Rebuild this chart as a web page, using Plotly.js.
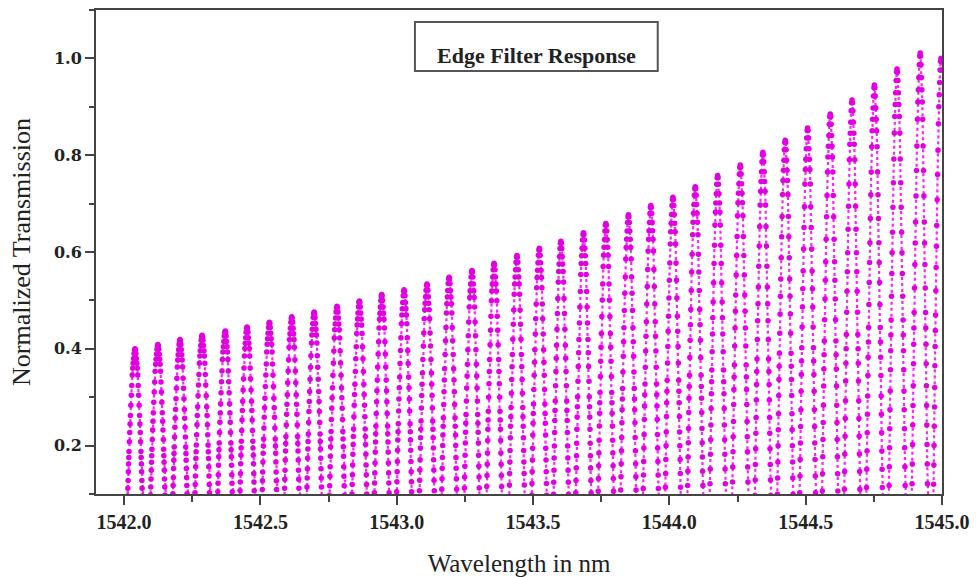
<!DOCTYPE html>
<html>
<head>
<meta charset="utf-8">
<script src="https://cdn.plot.ly/plotly-3.0.1.min.js"></script>
<style>
html,body{margin:0;padding:0;background:#fff;}
#chart{width:979px;height:577px;}
</style>
</head>
<body>
<div id="chart"></div>
<script>
// Peak (fringe maximum) wavelengths in nm
const peakWavelength = [1542.040, 1542.124, 1542.205, 1542.286, 1542.371, 1542.451, 1542.533, 1542.615, 1542.697, 1542.781,
  1542.863, 1542.945, 1543.027, 1543.111, 1543.192, 1543.276, 1543.357, 1543.441, 1543.523, 1543.602,
  1543.685, 1543.767, 1543.850, 1543.932, 1544.013, 1544.095, 1544.177, 1544.260, 1544.343, 1544.425,
  1544.507, 1544.590, 1544.670, 1544.752, 1544.835, 1544.920, 1544.996];
// Peak normalized transmission of each fringe
const peakTransmission = [0.400, 0.409, 0.419, 0.428, 0.437, 0.445, 0.455, 0.466, 0.476, 0.488,
  0.499, 0.512, 0.522, 0.534, 0.548, 0.562, 0.577, 0.593, 0.608, 0.622,
  0.640, 0.659, 0.677, 0.696, 0.713, 0.735, 0.758, 0.780, 0.806, 0.831,
  0.856, 0.885, 0.914, 0.945, 0.978, 1.011, 1.000];
// Half-fringe shape: offset from the peak (fraction of the period) and relative transmission
const fringeOffset = [0, 0.02, 0.04, 0.06, 0.08, 0.10, 0.12, 0.14, 0.16, 0.18, 0.20, 0.215, 0.23, 0.245, 0.26, 0.27,
  0.28, 0.29, 0.30, 0.31, 0.32, 0.33, 0.34, 0.35, 0.36, 0.37, 0.38, 0.40, 0.42, 0.45, 0.50];
const fringeShape = [1.000, 0.994, 0.976, 0.950, 0.925, 0.900, 0.865, 0.810, 0.760, 0.708, 0.655, 0.612, 0.568, 0.520, 0.470, 0.438,
  0.405, 0.365, 0.320, 0.280, 0.240, 0.200, 0.160, 0.120, 0.088, 0.062, 0.040, 0.020, 0.010, 0.003, 0.000];
// Axis tick values
const xTicks = [1542.0, 1542.5, 1543.0, 1543.5, 1544.0, 1544.5, 1545.0];
const yTicks = [0.2, 0.4, 0.6, 0.8, 1.0];
const titleText = 'Edge Filter Response';

const xs = [], ys = [];
const n = peakWavelength.length;
const m = fringeOffset.length;
for (let i = 0; i < n; i++) {
  const left = i > 0 ? peakWavelength[i] - peakWavelength[i - 1] : peakWavelength[1] - peakWavelength[0];
  const right = i < n - 1 ? peakWavelength[i + 1] - peakWavelength[i] : peakWavelength[i] - peakWavelength[i - 1];
  const pts = [];
  for (let j = m - 1; j >= 1; j--) pts.push([-fringeOffset[j] * left, fringeShape[j]]);
  for (let j = 0; j < m - 1; j++) pts.push([fringeOffset[j] * right, fringeShape[j]]);
  for (const [dx, r] of pts) {
    const x = peakWavelength[i] + dx;
    if (x < 1541.999 || x > 1545.0) continue;
    xs.push(x);
    ys.push(peakTransmission[i] * r);
  }
}

const trace = {
  x: xs, y: ys, type: 'scatter', mode: 'lines+markers',
  line: {color: '#ff22ff', width: 2.2, dash: 'dot'},
  marker: {color: '#e000e0', size: 5.5, line: {width: 0}},
  hoverinfo: 'x+y', showlegend: false
};

const axisCommon = {
  showline: true, linecolor: '#444', linewidth: 2, mirror: true,
  ticks: 'outside', tickcolor: '#444', tickwidth: 2, ticklen: 9,
  showgrid: false, zeroline: false,
};

const layout = {
  width: 979, height: 577,
  margin: {l: 96, r: 37, t: 10, b: 83},
  paper_bgcolor: '#fff', plot_bgcolor: '#fff',
  xaxis: Object.assign({}, axisCommon, {
    range: [1541.897, 1545.0],
    tickmode: 'array', tickvals: xTicks, ticktext: xTicks.map(v => v.toFixed(1)),
    tickfont: {family: 'Liberation Serif', size: 20, color: '#222', weight: 'bold'},
    minor: {dtick: 0.25, tick0: 1542.0, ticks: 'outside', ticklen: 6, tickcolor: '#444', tickwidth: 2},
    title: {text: 'Wavelength in nm', font: {family: 'Liberation Serif', size: 25, color: '#222'}, standoff: 24}
  }),
  yaxis: Object.assign({}, axisCommon, {
    range: [0.1, 1.1],
    tickmode: 'array', tickvals: yTicks, ticktext: yTicks.map(v => v.toFixed(1)),
    tickfont: {family: 'DejaVu Serif', size: 16, color: '#222', weight: 'bold'},
    minor: {dtick: 0.1, tick0: 0.1, ticks: 'outside', ticklen: 5, tickcolor: '#444', tickwidth: 2},
    title: {text: 'Normalized Transmission', font: {family: 'Liberation Serif', size: 26, color: '#222'}, standoff: 16}
  }),
  shapes: [{
    type: 'rect', xref: 'paper', yref: 'paper',
    x0: 0.377, x1: 0.664, y0: 0.874, y1: 0.975,
    line: {color: '#555', width: 2}, fillcolor: 'rgba(0,0,0,0)'
  }],
  annotations: [{
    xref: 'paper', yref: 'paper', x: 0.5207, y: 0.905,
    xanchor: 'center', yanchor: 'middle', showarrow: false,
    text: titleText,
    font: {family: 'Liberation Serif', size: 22, color: '#222', weight: 'bold'}
  }]
};

Plotly.newPlot('chart', [trace], layout, {displayModeBar: false, staticPlot: true});
</script>
</body>
</html>
